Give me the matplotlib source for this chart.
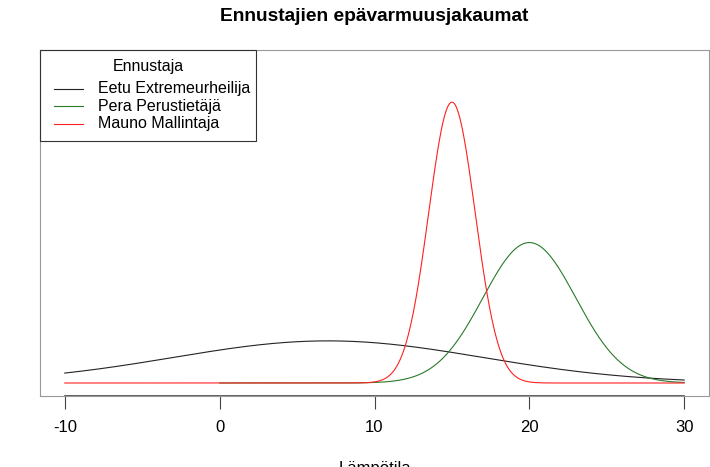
import matplotlib.pyplot as plt
from matplotlib.lines import Line2D
from matplotlib.patches import Rectangle
import numpy as np

plt.rcParams['font.family'] = ['Liberation Sans', 'DejaVu Sans']
plt.rcParams['axes.unicode_minus'] = False

# Ennustajat ja niiden jakaumat (keskiarvo, keskihajonta, x-alue)
ennustajat = ["Eetu Extremeurheilija", "Pera Perustietäjä", "Mauno Mallintaja"]
keskiarvot = [7, 20, 15]
hajonnat = [10, 3, 1.5]
x_alku = [-10, 0, -10]
x_loppu = [30, 30, 30]
varit = ["#222222", "#2a7a2a", "#ff2020"]

W, H = 710, 467
fig = plt.figure(figsize=(W / 100, H / 100), dpi=100)
ax = fig.add_axes([40/W, 71/H, 669/W, 346/H])

for nimi, mu, sd, a, b, c in zip(ennustajat, keskiarvot, hajonnat, x_alku, x_loppu, varit):
    x = np.linspace(a, b, 801)
    y = np.exp(-0.5 * ((x - mu) / sd) ** 2) / (sd * np.sqrt(2 * np.pi))
    ax.plot(x, y, color=c, lw=0.8, label=nimi)

ax.set_xlim(-11.6, 31.6)
ax.set_ylim(-13/1056, 333/1056)
ax.set_yticks([])
ax.set_xticks([-10, 0, 10, 20, 30])
ax.tick_params(axis='x', length=9, width=0.8, color='#444444', labelsize=12, pad=8)
for s in ax.spines.values():
    s.set_color('#999999')
    s.set_linewidth(0.8)
ax.plot([-10, 30], [-13/1056, -13/1056], color='#444444', lw=1.2, clip_on=False)

ax.set_title("Ennustajien epävarmuusjakaumat", fontsize=13.8, fontweight='bold', pad=21)
ax.set_xlabel("Lämpötila", fontsize=12, labelpad=19)

# selite piirretään käsin (R:n legend-tyyli)
def px(x, y):
    return x / W, 1 - y / H

x0, y0 = px(40, 141)
x1, y1 = px(256, 50)
fig.patches.append(Rectangle((x0, y0), x1 - x0, y1 - y0, transform=fig.transFigure,
                             fill=False, edgecolor='#333333', lw=0.8))
fig.text(*px(148, 67), "Ennustaja", ha='center', va='center', fontsize=11.5)
for i, (nimi, c) in enumerate(zip(ennustajat, varit)):
    yy = 89 + i * 17.3
    (lx0, ly), (lx1, _) = px(54, yy), px(83, yy)
    fig.add_artist(Line2D([lx0, lx1], [ly, ly], transform=fig.transFigure, color=c, lw=0.8))
    fig.text(*px(98, yy), nimi, ha='left', va='center', fontsize=11.5)

fig.savefig("out.png", dpi=100)
